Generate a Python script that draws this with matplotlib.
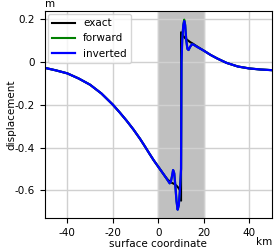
import matplotlib
matplotlib.use("Agg")
import matplotlib.pyplot as plt

plt.rcParams['axes.unicode_minus'] = False
plt.rcParams['font.size'] = 7.5

# exact solution
x_exact = [-50, -45, -40, -35, -30, -25, -20, -17, -14, -11, -8, -6, -4, -2, 0, 2, 3, 4, 5,
           6, 7, 8, 9, 9.5, 10, 10, 11, 12, 13, 14, 15, 17, 20, 23, 26, 30, 35, 40, 45, 50]
y_exact = [-0.028, -0.04, -0.054, -0.078, -0.107, -0.148, -0.2, -0.236, -0.274, -0.315, -0.36,
           -0.393, -0.427, -0.46, -0.49, -0.52, -0.535, -0.548, -0.558,
           -0.565, -0.57, -0.578, -0.59, -0.60, -0.648, 0.138, 0.12, 0.108, 0.10, 0.092, 0.086,
           0.072, 0.052, 0.032, 0.015, -0.005, -0.022, -0.031, -0.036, -0.039]

# inverted / forward model
x_inv = [-50, -45, -40, -35, -30, -25, -20, -17, -14, -11, -8, -6, -4, -2, 0, 2, 3, 4, 5,
         5.5, 6, 6.5, 7, 7.5, 8, 8.5, 9, 9.5, 10, 10.2, 10.5, 11, 11.4, 11.8, 12.3, 12.8, 13.3,
         14, 14.8, 15.5, 17, 20, 23, 26, 30, 35, 40, 45, 50]
y_inv = [-0.028, -0.04, -0.054, -0.078, -0.107, -0.148, -0.2, -0.236, -0.274, -0.315, -0.36,
         -0.393, -0.427, -0.46, -0.49, -0.52, -0.535, -0.551, -0.567,
         -0.56, -0.535, -0.505, -0.52, -0.58, -0.65, -0.69, -0.67, -0.60, -0.50, 0.0, 0.1, 0.17,
         0.19, 0.17, 0.10, 0.06, 0.055, 0.07, 0.082, 0.08, 0.07, 0.052, 0.032, 0.015, -0.005,
         -0.022, -0.031, -0.036, -0.039]
y_fwd = [-0.028, -0.04, -0.054, -0.078, -0.107, -0.148, -0.2, -0.236, -0.274, -0.315, -0.36,
         -0.393, -0.427, -0.46, -0.49, -0.52, -0.535, -0.551, -0.567,
         -0.56, -0.535, -0.505, -0.52, -0.58, -0.65, -0.69, -0.67, -0.60, -0.50, 0.0, 0.1, 0.175,
         0.197, 0.175, 0.10, 0.06, 0.055, 0.07, 0.082, 0.08, 0.07, 0.052, 0.032, 0.015, -0.005,
         -0.022, -0.031, -0.036, -0.039]

xticks = [-40, -20, 0, 20, 40]
yticks = [0.2, 0, -0.2, -0.4, -0.6]
ylabels = ['0.2', '0', '-0.2', '-0.4', '-0.6']

fig = plt.figure(figsize=(2.76, 2.48), dpi=100)
ax = fig.add_axes([0.1616, 0.12, 0.824, 0.836])

ax.axvspan(0, 20, color='#c0c0c0', zorder=0)
ax.plot(x_exact, y_exact, color='black', lw=1.5, label='exact')
ax.plot(x_inv, y_fwd, color='green', lw=1.5, label='forward')
ax.plot(x_inv, y_inv, color='blue', lw=1.6, label='inverted')

ax.set_xlim(-50, 50)
ax.set_ylim(-0.73, 0.2375)
ax.set_xticks(xticks)
ax.set_yticks(yticks)
ax.set_yticklabels(ylabels)
ax.grid(True, color='#d0d0d0', lw=1)
ax.set_axisbelow(True)
ax.set_xlabel('surface coordinate', labelpad=1)
ax.set_ylabel('displacement')
ax.yaxis.set_label_coords(-0.125, 0.5)
ax.text(0.0, 1.01, 'm', transform=ax.transAxes, ha='left', va='bottom')
ax.text(1.0, -0.09, 'km', transform=ax.transAxes, ha='right', va='top')
ax.legend(loc='upper left', fontsize=7.5, handlelength=2.2, borderaxespad=0.3)

fig.savefig('out.png', dpi=100)
